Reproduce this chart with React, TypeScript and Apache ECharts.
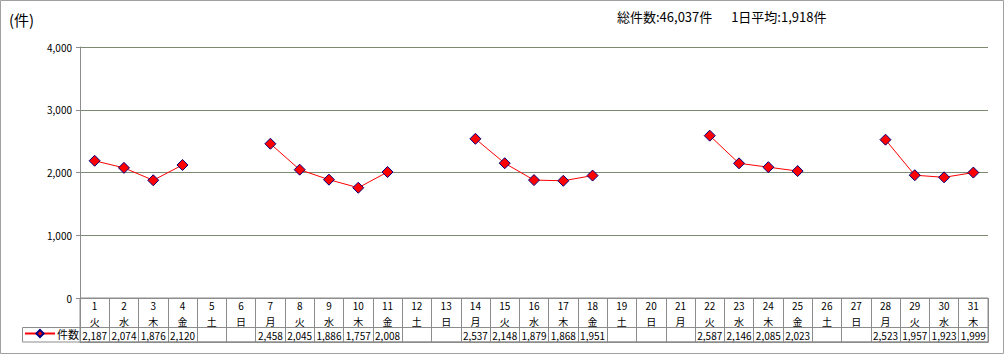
import React, { useEffect, useRef } from "react";
import * as echarts from "echarts";

const days: string[] = Array.from({ length: 31 }, (_, i) => String(i + 1));
const weekdays: string[] = [
  "火", "水", "木", "金", "土", "日", "月",
  "火", "水", "木", "金", "土", "日", "月",
  "火", "水", "木", "金", "土", "日", "月",
  "火", "水", "木", "金", "土", "日", "月",
  "火", "水", "木",
];
const counts: (number | null)[] = [
  2187, 2074, 1876, 2120, null, null, 2458, 2045, 1886, 1757, 2008, null, null, 2537,
  2148, 1879, 1868, 1951, null, null, null, 2587, 2146, 2085, 2023, null, null, 2523,
  1957, 1923, 1999,
];
const seriesName = "件数";
const unitLabel = "(件)";
const dailyAverage = 1918;

const FONT = "'Noto Sans CJK JP', 'Noto Sans', sans-serif";
const fmt = (v: number) => v.toLocaleString("en-US");

export default function App() {
  const ref = useRef<HTMLDivElement>(null);
  useEffect(() => {
    if (!ref.current) return;
    const chart = echarts.init(ref.current, undefined, { renderer: "svg" });
    const total = counts.reduce<number>((a, b) => a + (b ?? 0), 0);
    const gridColor = "#7b8a70";
    const tableColor = "#8c8c8c";
    chart.setOption({
      animation: false,
      backgroundColor: "#ffffff",
      textStyle: { fontFamily: FONT },
      title: [
        { text: unitLabel, left: 4, top: 7, textStyle: { fontSize: 15, fontWeight: "normal", color: "#000", fontFamily: FONT } },
        {
          text: `総件数:${fmt(total)}件　  1日平均:${fmt(dailyAverage)}件`,
          left: 612, top: 5,
          textStyle: { fontSize: 13, fontWeight: "normal", color: "#000", fontFamily: FONT },
        },
      ],
      legend: {
        data: [seriesName],
        left: 24, top: 328, itemWidth: 30, itemHeight: 9, padding: 0,
        textStyle: { fontSize: 11, color: "#000", fontFamily: FONT, padding: [0, 0, 0, -3] },
      },
      grid: [
        { left: 80, right: 17, top: 47, height: 251 },
        { left: 80, right: 17, top: 298, height: 44, show: true, borderColor: tableColor, borderWidth: 1 },
      ],
      xAxis: [
        {
          type: "category", gridIndex: 0, data: days, boundaryGap: true,
          axisLine: { show: true, lineStyle: { color: tableColor } },
          axisTick: { show: false },
          axisLabel: {
            interval: 0, margin: -1, fontSize: 10, lineHeight: 16, color: "#000", fontFamily: FONT,
            formatter: (v: string, i: number) => `${v}\n${weekdays[i]}`,
          },
        },
        {
          type: "category", gridIndex: 1, data: days, boundaryGap: true, position: "bottom",
          axisLine: { show: true, lineStyle: { color: tableColor } },
          axisTick: { show: false },
          splitLine: { show: true, interval: 0, lineStyle: { color: tableColor, width: 1 } },
          axisLabel: {
            interval: 0, inside: true, margin: 2, fontSize: 10, color: "#000", fontFamily: FONT,
            formatter: (_v: string, i: number) => (counts[i] == null ? "" : fmt(counts[i] as number)),
          },
        },
      ],
      yAxis: [
        {
          type: "value", gridIndex: 0, min: 0, max: 4000, interval: 1000,
          axisLine: { show: true, lineStyle: { color: tableColor } },
          axisTick: { show: true, length: 4, lineStyle: { color: tableColor } },
          axisLabel: { margin: 8, fontSize: 10, color: "#000", fontFamily: FONT, formatter: (v: number) => fmt(v) },
          splitLine: { show: true, lineStyle: { color: gridColor, width: 1 } },
        },
        { type: "value", gridIndex: 1, show: false },
      ],
      graphic: [
        { type: "rect", shape: { x: 0.5, y: 0.5, width: 1003, height: 353 }, style: { fill: "none", stroke: "#a0a0a0", lineWidth: 1 }, silent: true },
        { type: "rect", shape: { x: 22.5, y: 327.5, width: 966, height: 14.5 }, style: { fill: "none", stroke: tableColor, lineWidth: 1 }, silent: true, z: 10 },
      ],
      series: [
        {
          name: seriesName, type: "line", xAxisIndex: 0, yAxisIndex: 0, data: counts,
          connectNulls: false,
          symbol: "diamond", symbolSize: 11,
          lineStyle: { color: "#ff0000", width: 1 },
          itemStyle: { color: "#ff0000", borderColor: "#000080", borderWidth: 1 },
        },
      ],
    });
    return () => chart.dispose();
  }, []);
  return <div ref={ref} style={{ position: "fixed", left: 0, top: 0, width: 1005, height: 355 }} />;
}
